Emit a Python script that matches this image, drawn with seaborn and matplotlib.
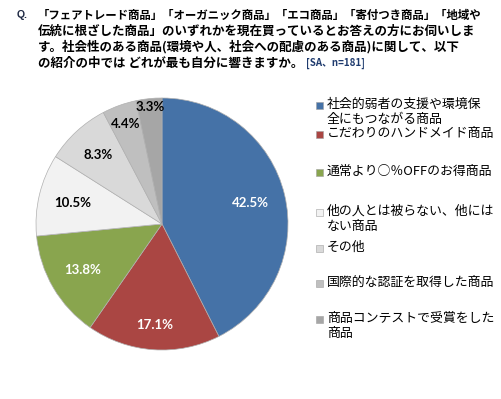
import matplotlib
matplotlib.use("Agg")
import matplotlib.pyplot as plt
from matplotlib.patches import Rectangle
import numpy as np
import seaborn as sns

# Data
labels = [
    "社会的弱者の支援や環境保\n全にもつながる商品",
    "こだわりのハンドメイド商品",
    "通常より○％OFFのお得商品",
    "他の人とは被らない、他には\nない商品",
    "その他",
    "国際的な認証を取得した商品",
    "商品コンテストで受賞をした\n商品",
]
shares = [42.5, 17.1, 13.8, 10.5, 8.3, 4.4, 3.3]
title_lines = [
    "「フェアトレード商品」「オーガニック商品」「エコ商品」「寄付つき商品」「地域や",
    "伝統に根ざした商品」のいずれかを現在買っているとお答えの方にお伺いしま",
    "す。社会性のある商品(環境や人、社会への配慮のある商品)に関して、以下",
    "の紹介の中では どれが最も自分に響きますか。",
]
sample_note = "[SA、n=181]"

# Styling
colors = sns.color_palette(["#4572A7", "#AA4643", "#89A54E", "#F2F2F2",
                            "#D9D9D9", "#BFBFBF", "#A6A6A6"])
pct_colors = ["white", "white", "white", "black", "black", "black", "black"]
pct_dist = [0.72, 0.80, 0.73, 0.73, 0.75, 0.84, 0.93]
legend_y = [104, 133, 171, 211, 247, 282, 318]   # pixel rows of first legend line

sns.set_theme(style="white")
plt.rcParams['font.family'] = ['Noto Sans CJK JP', 'DejaVu Sans']

W, H = 502, 399
fig = plt.figure(figsize=(W / 100, H / 100), dpi=100)
fig.patch.set_facecolor("white")

# pie axes: centre (162, 224), radius 126 px
cx, cy, r = 162, 224, 126
ax = fig.add_axes([(cx - r) / W, (H - cy - r) / H, 2 * r / W, 2 * r / H])
wedges, _ = ax.pie(shares, colors=colors, startangle=90, counterclock=False,
                   radius=1, wedgeprops=dict(edgecolor="#B0B0B0", linewidth=0.5))
ax.set_xlim(-1, 1)
ax.set_ylim(-1, 1)
ax.set_aspect("equal")
ax.axis("off")

for w, val, d, c in zip(wedges, shares, pct_dist, pct_colors):
    ang = np.deg2rad((w.theta1 + w.theta2) / 2)
    ax.text(d * np.cos(ang), d * np.sin(ang), f"{val:.1f}%", ha="center", va="center",
            fontsize=9.5, fontweight="bold", color=c, family=["Lato", "DejaVu Sans"])

# title
fig.text(17 / W, 1 - 15 / H, "Q.", fontsize=7.5, fontweight="bold", color="#1F2A44",
         va="center", ha="left", family=["Liberation Sans", "DejaVu Sans"])
renderer = fig.canvas.get_renderer()
last = None
for i, line in enumerate(title_lines):
    last = fig.text(38 / W, 1 - (15 + i * 16) / H, line, fontsize=9, fontweight="bold",
                    va="center", ha="left", color="black")
    wpx = last.get_window_extent(renderer).width
    if wpx > 446:
        last.set_fontsize(9 * 446 / wpx)
bb = last.get_window_extent(renderer)
fig.text((bb.x1 + 3) / W, 1 - 63 / H, sample_note, fontsize=7, fontweight="bold",
         color="#1F3B6E", va="center", ha="left")

# legend
for lab, col, y0 in zip(labels, colors, legend_y):
    fig.patches.append(Rectangle((316 / W, 1 - (y0 + 5) / H), 7 / W, 7 / H,
                                 transform=fig.transFigure, facecolor=col,
                                 edgecolor="#A0A0A0", linewidth=0.4))
    for j, part in enumerate(lab.split("\n")):
        fig.text(327 / W, 1 - (y0 + j * 15) / H, part, fontsize=9.3, va="center",
                 ha="left", color="black")

fig.savefig("out.png", dpi=100)
